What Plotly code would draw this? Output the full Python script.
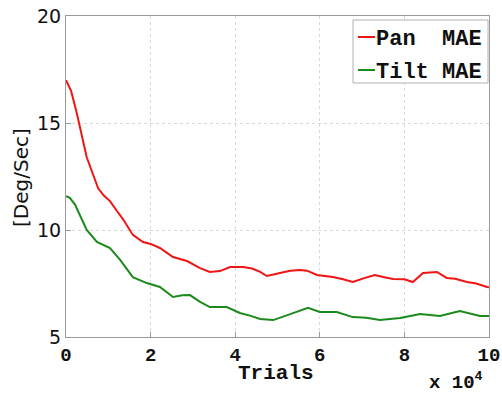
import plotly.graph_objects as go

# ---- data (trials in units of 10^4) ----
series_names = ["Pan  MAE", "Tilt MAE"]
series_colors = ["#f01414", "#1b8a1b"]

pan_x = [0.00, 0.12, 0.25, 0.37, 0.49, 0.62, 0.76, 0.90, 1.04, 1.20, 1.35, 1.58, 1.82, 2.00,
         2.22, 2.53, 2.86, 3.17, 3.40, 3.64, 3.88, 4.19, 4.40, 4.59, 4.75, 5.06, 5.30, 5.53,
         5.70, 5.93, 6.31, 6.55, 6.78, 7.05, 7.30, 7.50, 7.73, 8.00, 8.20, 8.44, 8.77, 9.00,
         9.20, 9.48, 9.70, 9.95, 10.00]
pan_y = [17.0, 16.5, 15.5, 14.5, 13.4, 12.7, 11.95, 11.6, 11.35, 10.9, 10.5, 9.77, 9.44, 9.35,
         9.16, 8.74, 8.55, 8.22, 8.04, 8.08, 8.27, 8.27, 8.2, 8.04, 7.85, 7.99, 8.1, 8.13,
         8.1, 7.9, 7.8, 7.7, 7.57, 7.75, 7.9, 7.8, 7.71, 7.7, 7.57, 7.99, 8.04, 7.76,
         7.72, 7.57, 7.5, 7.34, 7.32]

tilt_x = [0.00, 0.09, 0.21, 0.35, 0.49, 0.73, 1.04, 1.28, 1.58, 1.91, 2.22, 2.53, 2.75, 2.93,
          3.17, 3.40, 3.80, 4.11, 4.35, 4.59, 4.90, 5.30, 5.72, 6.00, 6.40, 6.78, 7.10, 7.42,
          7.90, 8.37, 8.84, 9.31, 9.55, 9.79, 10.00]
tilt_y = [11.58, 11.5, 11.2, 10.6, 10.0, 9.44, 9.16, 8.6, 7.8, 7.52, 7.34, 6.87, 6.95, 6.96,
          6.64, 6.4, 6.4, 6.12, 6.0, 5.84, 5.79, 6.07, 6.36, 6.17, 6.17, 5.93, 5.9, 5.79,
          5.89, 6.07, 5.98, 6.21, 6.1, 5.98, 5.98]

x_ticks = [0, 2, 4, 6, 8, 10]
y_ticks = [5, 10, 15, 20]
x_title = "Trials"
x_multiplier = "x 10<sup>4</sup>"
y_title = "[Deg/Sec]"

# ---- layout geometry (screen pixels; body margin removed in the page) ----
W, H = 502, 394
PL, PR, PT, PB = 66, 489, 16, 337          # plot area on screen
ML, MT, MR, MB = PL, PT, W - PR, H - PB
PW, PH = PR - PL, PB - PT


def px(xs):
    return (xs - PL) / PW


def py(ys):
    return (PB - ys) / PH


MONO = "Liberation Mono"
SANS = "DejaVu Sans"
AX = "#9a9a9a"

fig = go.Figure()
for xs, ys, name, col in [(pan_x, pan_y, series_names[0], series_colors[0]),
                          (tilt_x, tilt_y, series_names[1], series_colors[1])]:
    fig.add_trace(go.Scatter(x=xs, y=ys, mode="lines", name=name,
                             line=dict(color=col, width=2), showlegend=False))

axis_common = dict(showline=True, mirror=True, linecolor=AX, linewidth=1,
                   ticks="inside", ticklen=5, tickcolor=AX,
                   showgrid=True, gridcolor="#d9d9d9", griddash="3px,3px", gridwidth=1,
                   zeroline=False, automargin=False)

fig.update_layout(
    width=W, height=H, autosize=False,
    margin=dict(l=ML, r=MR, t=MT, b=MB, pad=0),
    paper_bgcolor="white", plot_bgcolor="white",
    xaxis=dict(range=[0, 10], tickvals=x_ticks, ticktext=[str(v) for v in x_ticks],
               tickfont=dict(family=MONO, size=19, color="#111", weight="bold"),
               **axis_common),
    yaxis=dict(range=[5, 20], tickvals=y_ticks, ticktext=[str(v) for v in y_ticks],
               tickfont=dict(family=SANS, size=19, color="#111"),
               **axis_common),
)

annotations = [
    dict(text=x_title, x=px(276), y=py(373), xref="paper", yref="paper",
         xanchor="center", yanchor="middle", showarrow=False,
         font=dict(family=MONO, size=21, color="#111", weight="bold")),
    dict(text=x_multiplier, x=px(485), y=py(381), xref="paper", yref="paper",
         xanchor="right", yanchor="middle", showarrow=False,
         font=dict(family=MONO, size=19, color="#111", weight="bold")),
    dict(text=y_title, x=px(21), y=py(178), xref="paper", yref="paper",
         xanchor="center", yanchor="middle", showarrow=False, textangle=-90,
         font=dict(family=SANS, size=20, color="#111")),
]

shapes = [dict(type="rect", xref="paper", yref="paper",
               x0=px(353), x1=px(488), y0=py(83), y1=py(20),
               line=dict(color="#b0b0b0", width=1), fillcolor="white", layer="above")]

legend_rows = [38, 71]
for row_y, name, col in zip(legend_rows, series_names, series_colors):
    shapes.append(dict(type="line", xref="paper", yref="paper",
                       x0=px(358), x1=px(375), y0=py(row_y - 1), y1=py(row_y - 1),
                       line=dict(color=col, width=2), layer="above"))
    annotations.append(dict(text=name.replace(" ", "&nbsp;"), x=px(374), y=py(row_y + 1),
                            xref="paper", yref="paper", xanchor="left", yanchor="middle",
                            showarrow=False,
                            font=dict(family=MONO, size=22, color="#111", weight="bold")))

fig.update_layout(annotations=annotations, shapes=shapes)
fig.write_html("out.html",
               config={"displayModeBar": False},
               post_script="document.body.style.margin='0px';"
                           "document.body.style.overflow='hidden';")
